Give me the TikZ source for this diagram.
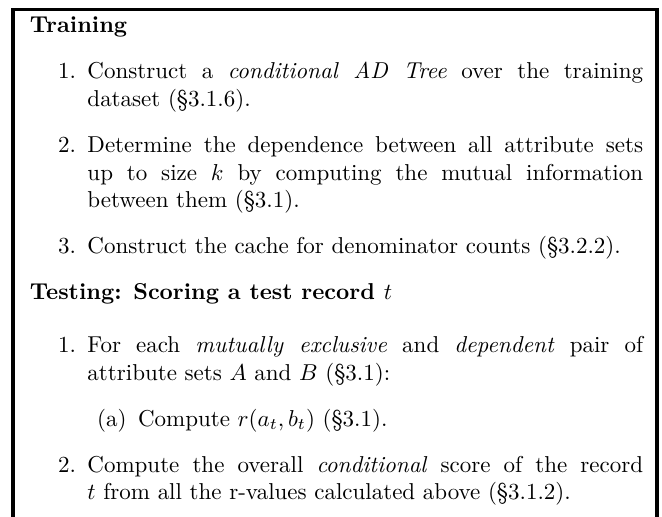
\documentclass[tikz,border=0pt]{standalone}
\usepackage{amsmath}
\tikzset{
  frame/.style={line width=1.7pt, line cap=butt, line join=miter},
  panel/.style={anchor=base west, inner sep=0pt, outer sep=0pt}
}
\begin{document}
\begin{tikzpicture}[x=0.435pt, y=-0.435pt]
  \useasboundingbox (0,0) rectangle (662,517);
  % open-bottomed frame around the procedure
  \coordinate (bl) at (13,560);
  \coordinate (tl) at (13,9.5);
  \coordinate (tr) at (657,9.5);
  \coordinate (br) at (657,560);
  \draw[frame] (bl) -- (tl) -- (tr) -- (br);
  % procedure text
  \node[panel] (proc) at (30,33) {%
    \begin{minipage}[t]{266.7pt}
      \textbf{Training}
      \begin{enumerate}
        \item Construct a \emph{conditional AD Tree} over the training\linebreak
              dataset (\S3.1.6).
        \item Determine the dependence between all attribute sets\linebreak
              up to size $k$ by computing the mutual information\linebreak
              between them (\S3.1).
        \item Construct the cache for denominator counts (\S3.2.2).
      \end{enumerate}
      \textbf{Testing: Scoring a test record $t$}\par\kern1pt
      \begin{enumerate}
        \item For each \emph{mutually exclusive} and \emph{dependent} pair of\linebreak
              attribute sets $A$ and $B$ (\S3.1):
              \begin{enumerate}
                \item Compute $r(a_t, b_t)$ (\S3.1).
              \end{enumerate}
        \item Compute the overall \emph{conditional} score of the record\linebreak
              $t$ from all the r-values calculated above (\S3.1.2).
      \end{enumerate}
    \end{minipage}};
\end{tikzpicture}
\end{document}
